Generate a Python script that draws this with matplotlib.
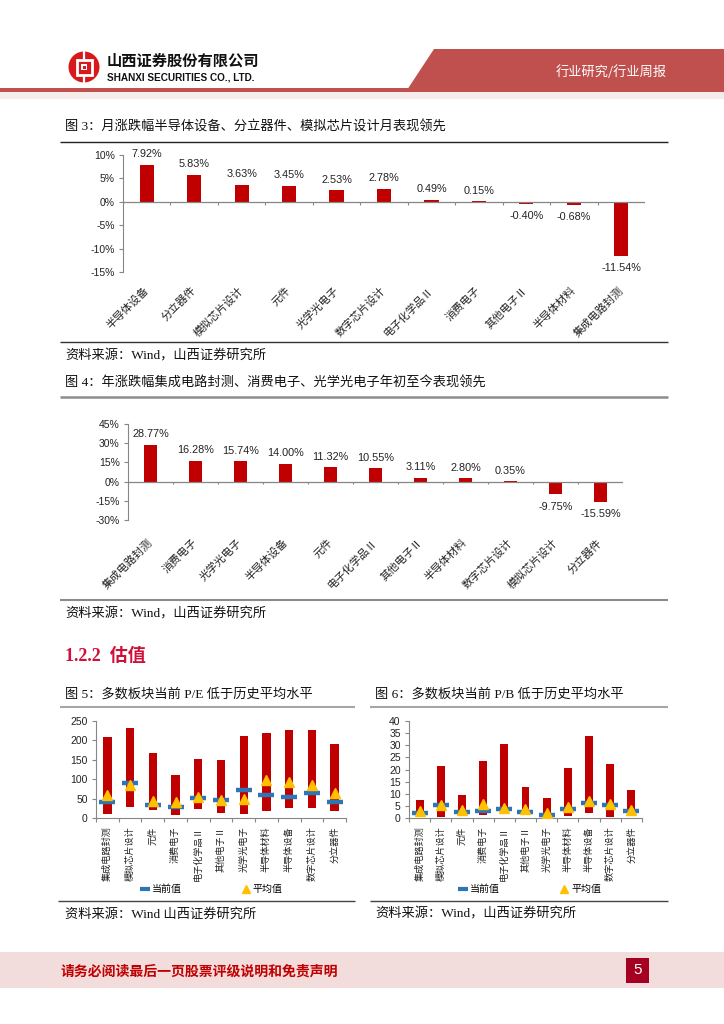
import numpy as np
import matplotlib
matplotlib.use("Agg")
import matplotlib.pyplot as plt
from matplotlib.patches import Polygon, Rectangle, Circle
from matplotlib.lines import Line2D

# ---------------- data ----------------
m_cats = ["半导体设备", "分立器件", "模拟芯片设计", "元件", "光学光电子", "数字芯片设计",
          "电子化学品Ⅱ", "消费电子", "其他电子Ⅱ", "半导体材料", "集成电路封测"]
m_vals = [7.92, 5.83, 3.63, 3.45, 2.53, 2.78, 0.49, 0.15, -0.40, -0.68, -11.54]

y_cats = ["集成电路封测", "消费电子", "光学光电子", "半导体设备", "元件", "电子化学品Ⅱ",
          "其他电子Ⅱ", "半导体材料", "数字芯片设计", "模拟芯片设计", "分立器件"]
y_vals = [28.77, 16.28, 15.74, 14.00, 11.32, 10.55, 3.11, 2.80, 0.35, -9.75, -15.59]

v_cats = ["集成电路封测", "模拟芯片设计", "元件", "消费电子", "电子化学品Ⅱ", "其他电子Ⅱ",
          "光学光电子", "半导体材料", "半导体设备", "数字芯片设计", "分立器件"]
pe_max = [209, 232, 167, 110, 153, 149, 211, 219, 226, 228, 192]
pe_min = [11, 28, 20, 7, 23, 14, 10, 18, 27, 27, 18]
pe_cur = [40, 89, 33, 29, 51, 46, 71, 60, 54, 64, 40]
pe_avg = [60, 84, 45, 41, 53, 47, 49, 97, 94, 84, 65]

pb_max = [7.6, 21.4, 9.3, 23.5, 30.4, 12.6, 8.1, 20.8, 33.7, 22.3, 11.4]
pb_min = [0.8, 0.5, 1.0, 1.1, 2.1, 1.4, 0.5, 0.7, 2.1, 0.5, 0.8]
pb_cur = [2.2, 5.5, 2.6, 3.0, 3.6, 2.6, 1.2, 3.6, 6.2, 5.5, 2.7]
pb_avg = [2.9, 5.2, 3.2, 5.6, 4.1, 3.7, 2.1, 4.5, 6.9, 5.6, 3.4]

# ---------------- style ----------------
CJK = "Noto Sans CJK SC"
SANS = ["Liberation Sans", CJK]
SERIF = ["Liberation Serif", CJK]
plt.rcParams["font.family"] = SANS
RED = "#C00000"
AXC = "#868686"

W, H = 724, 1024
fig = plt.figure(figsize=(W / 100, H / 100), dpi=100)

bg = fig.add_axes([0, 0, 1, 1])
bg.set_xlim(0, W)
bg.set_ylim(H, 0)
bg.axis("off")


def px_axes(l, t, r, b):
    ax = fig.add_axes([l / W, 1 - b / H, (r - l) / W, (b - t) / H])
    ax.patch.set_alpha(0)
    return ax


# ---------------- header ----------------
bg.add_patch(Polygon([(434, 49), (724, 49), (724, 90), (407, 90)], closed=True,
                     color="#C0504D", lw=0))
bg.add_patch(Rectangle((0, 88), W, 4, color="#C0504D", lw=0))
bg.add_patch(Rectangle((0, 92), W, 7, color="#F6ECEC", lw=0))
# logo
bg.add_patch(Circle((84, 67), 15.5, color="#D7191C", lw=0))
bg.add_patch(Rectangle((76.5, 59.5), 15, 15, fill=False, ec="white", lw=2.0))
bg.add_patch(Rectangle((81, 64), 6, 6, color="white", lw=0))
bg.add_patch(Rectangle((82.5, 65.5), 3, 3, color="#D7191C", lw=0))
bg.plot([84, 84], [51, 58], color="white", lw=1.6)
bg.plot([84, 84], [76, 83], color="white", lw=1.6)
bg.text(107, 61, "山西证券股份有限公司", fontsize=11, fontweight="bold", family=CJK,
        va="center", ha="left", color="#111111")
bg.text(107, 77, "SHANXI SECURITIES CO., LTD.", fontsize=7.2, fontweight="bold",
        family="Liberation Sans", va="center", ha="left", color="#111111")
bg.text(611, 72, "行业研究/行业周报", fontsize=9.5, family=CJK, color="white",
        va="center", ha="center")

# ---------------- page texts & rules ----------------
def hrule(y, x0, x1, color, lw):
    bg.plot([x0, x1], [y, y], color=color, lw=lw, solid_capstyle="butt")


hrule(142, 60, 668, "#222222", 1.0)
hrule(342, 60, 668, "#333333", 1.0)
hrule(397, 60, 668, "#8C8C8C", 1.8)
hrule(600, 60, 668, "#8C8C8C", 1.5)
hrule(707, 60, 355, "#A6A6A6", 1.5)
hrule(707, 370, 668, "#A6A6A6", 1.5)
hrule(901, 58, 355, "#444444", 1.0)
hrule(901, 370, 668, "#444444", 1.0)

tkw = dict(fontsize=9.5, family=SERIF, va="center", ha="left", color="#111111")
bg.text(65, 127, "图 3：月涨跌幅半导体设备、分立器件、模拟芯片设计月表现领先", **tkw)
bg.text(65, 356, "资料来源：Wind，山西证券研究所", **tkw)
bg.text(65, 383, "图 4：年涨跌幅集成电路封测、消费电子、光学光电子年初至今表现领先", **tkw)
bg.text(65, 614, "资料来源：Wind，山西证券研究所", **tkw)
bg.text(65, 656, "1.2.2  估值", fontsize=13, fontweight="bold", family=SERIF,
        va="center", ha="left", color="#D0103A")
bg.text(65, 694, "图 5：多数板块当前 P/E 低于历史平均水平", **tkw)
bg.text(375, 694, "图 6：多数板块当前 P/B 低于历史平均水平", **tkw)
bg.text(65, 914, "资料来源：Wind 山西证券研究所", **tkw)
bg.text(375, 914, "资料来源：Wind，山西证券研究所", **tkw)

# ---------------- footer ----------------
bg.add_patch(Rectangle((0, 952), W, 36, color="#F2DCDC", lw=0))
bg.text(61, 971, "请务必阅读最后一页股票评级说明和免责声明", fontsize=10, fontweight="bold",
        family=CJK, color="#C00000", va="center", ha="left")
bg.add_patch(Rectangle((626, 958), 23, 25, color="#A50021", lw=0))
bg.text(637.5, 970.5, "5", fontsize=11, color="white", va="center", ha="center",
        family="Liberation Sans")


# ---------------- bar charts (fig 3 & 4) ----------------
def bar_chart(ax, cats, vals, lo, hi, step, width, lab_pad, tick_down):
    n = len(cats)
    x = np.arange(n)
    ax.bar(x, vals, width=width, color=RED, zorder=2)
    ax.set_xlim(-0.5, n - 0.5)
    ax.set_ylim(lo, hi)
    yt = np.arange(lo, hi + step / 2, step)
    ax.set_yticks(yt)
    ax.set_yticklabels([f"{int(v)}%" for v in yt], fontsize=7.5, color="#222222")
    ax.tick_params(axis="y", length=3, width=0.8, color=AXC, pad=3)
    for s in ["top", "right", "bottom"]:
        ax.spines[s].set_visible(False)
    ax.spines["left"].set_color(AXC)
    ax.spines["left"].set_linewidth(0.8)
    ax.axhline(0, color=AXC, lw=0.9, zorder=3)
    ax.vlines(np.arange(n + 1) - 0.5, 0, -tick_down, color=AXC, lw=0.8, zorder=3)
    ax.set_xticks(x)
    ax.set_xticklabels(cats, rotation=45, ha="right", rotation_mode="anchor",
                       va="center", fontsize=7.8, family=CJK, color="#222222")
    ax.tick_params(axis="x", length=0, pad=lab_pad)
    for xi, v in zip(x, vals):
        ax.annotate(f"{v:.2f}%", (xi, v), xytext=(0, 7.5 if v >= 0 else -9),
                    textcoords="offset points", ha="center", va="center",
                    fontsize=7.8, color="#222222")


ax3 = px_axes(123, 155, 645, 272)
bar_chart(ax3, m_cats, m_vals, -15, 10, 5, 0.30, 12, 0.6)

ax4 = px_axes(128, 424, 623, 520)
bar_chart(ax4, y_cats, y_vals, -30, 45, 15, 0.31, 15, 1.6)


# ---------------- range charts (fig 5 & 6) ----------------
def range_chart(ax, cats, vmax, vmin, cur, avg, top, step, leg_xy):
    n = len(cats)
    x = np.arange(n)
    vmax = np.array(vmax, float)
    vmin = np.array(vmin, float)
    ax.bar(x, vmax - vmin, bottom=vmin, width=0.37, color=RED, zorder=2)
    ax.plot(x, cur, ls="none", marker="_", ms=11, mew=3.2, color="#2E75B6", zorder=3)
    ax.plot(x, avg, ls="none", marker="^", ms=7, color="#FFC000", mec="#FFC000", zorder=4)
    ax.set_xlim(-0.5, n - 0.5)
    ax.set_ylim(0, top)
    yt = np.arange(0, top + step / 2, step)
    ax.set_yticks(yt)
    ax.set_yticklabels([f"{int(v)}" for v in yt], fontsize=7.5, color="#222222")
    ax.tick_params(axis="y", length=3, width=0.8, color=AXC, pad=3)
    for s in ["top", "right"]:
        ax.spines[s].set_visible(False)
    for s in ["left", "bottom"]:
        ax.spines[s].set_color(AXC)
        ax.spines[s].set_linewidth(0.8)
    ax.set_xticks(x)
    ax.set_xticklabels(cats, rotation=90, ha="center", va="top", fontsize=6.6,
                       family=CJK, color="#222222")
    ax.set_xticks(np.arange(n + 1) - 0.5, minor=True)
    ax.tick_params(axis="x", which="major", length=0, pad=6)
    ax.tick_params(axis="x", which="minor", length=3, width=0.8, color=AXC)
    handles = [Line2D([], [], ls="none", marker="_", ms=7, mew=3, color="#2E75B6"),
               Line2D([], [], ls="none", marker="^", ms=6, color="#FFC000")]
    fig.legend(handles, ["当前值", "平均值"], loc="center",
               bbox_to_anchor=(leg_xy[0] / W, 1 - leg_xy[1] / H), ncol=2, frameon=False,
               prop={"family": CJK, "size": 7.2}, handlelength=0.8, handletextpad=0.3,
               columnspacing=6.0)


ax5 = px_axes(96, 721, 346, 818)
range_chart(ax5, v_cats, pe_max, pe_min, pe_cur, pe_avg, 250, 50, (212, 889))

ax6 = px_axes(409, 721, 642, 818)
range_chart(ax6, v_cats, pb_max, pb_min, pb_cur, pb_avg, 40, 5, (530, 889))

fig.savefig("out.png", dpi=100)
